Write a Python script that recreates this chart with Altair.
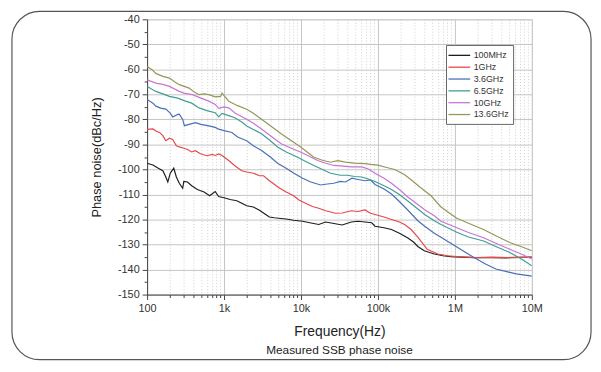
import altair as alt
import pandas as pd

series_names = ["100MHz", "1GHz", "3.6GHz", "6.5GHz", "10GHz", "13.6GHz"]
series_colors = ["#1e1e1e", "#e5484b", "#4870b6", "#3f9e92", "#c675d6", "#96965a"]

f_100mhz = [100, 119, 140, 160, 175, 186, 200, 222, 240, 262, 290, 300, 335, 380, 450, 550, 650, 767, 850,
            1000, 1200, 1465, 1700, 1970, 2400, 2890, 3400, 3880, 4500, 5500, 6420, 8000, 10500, 13000, 17000,
            20900, 25700, 34300, 45000, 55200, 67700, 83000, 91700, 120000, 150000, 190000, 242000, 290000,
            330000, 400000, 540000, 700000, 880000, 1200000, 1770000, 3000000, 4600000, 7000000, 10000000]
v_100mhz = [-97.5, -98.2, -99.5, -100.5, -103, -105, -101.5, -99.5, -103, -105.5, -107.5, -104.8, -105, -106.5,
            -108, -109, -110.5, -108.8, -110.8, -111.3, -112, -112.5, -113.5, -114.5, -115, -116.3, -117.8, -119,
            -119.3, -119.6, -119.8, -120.3, -120.7, -121.3, -122, -121, -121.5, -122.2, -121, -120.7, -121, -121.3,
            -122.7, -123.3, -124, -125.5, -127.3, -129, -130.8, -132.5, -133.8, -134.5, -134.8, -135, -135.2,
            -135.2, -135.3, -135.1, -135]

f_1ghz = [100, 119, 130, 145, 160, 175, 195, 215, 240, 262, 300, 335, 380, 425, 492, 600, 700, 767, 853, 941,
          1150, 1380, 1700, 1970, 2400, 2890, 3260, 3880, 4320, 5000, 6420, 8000, 9420, 12000, 14100, 17000, 20900,
          28100, 34300, 45000, 55200, 67700, 80000, 91700, 120000, 150000, 190000, 222000, 270000, 330000, 437000,
          600000, 800000, 1060000, 1930000, 3000000, 5000000, 10000000]
v_1ghz = [-84, -83.8, -84.6, -85.2, -86.5, -88.5, -87.5, -88, -90.5, -91, -91.5, -92, -93, -92.5, -93.7, -94.5,
          -94, -94.4, -93.8, -94.4, -96.4, -98.5, -100.5, -101, -101.5, -102.5, -102.5, -104.5, -105.5, -107, -109,
          -110.5, -112.2, -113.8, -114.8, -115.5, -116.5, -117.5, -117.4, -116.5, -116.8, -116.2, -117.5, -118,
          -119, -120, -121, -122, -124, -127, -131.9, -133.8, -134.5, -134.8, -135.2, -135, -135.2, -135]

f_3g6 = [100, 119, 130, 150, 175, 200, 215, 250, 262, 290, 305, 352, 425, 500, 635, 767, 853, 1000, 1265, 1500,
         1700, 1970, 2400, 3070, 4000, 5010, 6420, 8100, 10500, 13400, 18000, 22000, 26700, 32500, 37900, 46000,
         55200, 67700, 80000, 91700, 120000, 150000, 190000, 242000, 330000, 405000, 540000, 660000, 1060000,
         1770000, 2500000, 3410000, 5000000, 6300000, 10000000]
v_3g6 = [-72, -73.5, -74.7, -75.5, -75.9, -77.5, -79, -78, -77.9, -80, -82.5, -82, -81.3, -82, -82.6, -83.2,
         -83.9, -84.5, -85.2, -87, -87.7, -88.5, -90.5, -92.4, -95, -97.6, -99.5, -101.5, -103.5, -105, -106.2,
         -105.8, -105.5, -104.8, -105, -103.5, -104, -104.5, -104.2, -106, -107.8, -109.8, -112.8, -116.1, -120.5,
         -122.7, -125.5, -127.1, -131, -135.2, -137.8, -139.8, -141, -141.7, -142.6]

f_6g5 = [100, 130, 160, 195, 250, 316, 380, 473, 600, 767, 853, 941, 1150, 1380, 1700, 1970, 2400, 3070, 4000,
         5010, 6420, 9050, 11500, 14700, 19000, 24200, 32500, 40000, 50000, 61600, 75000, 91700, 120000, 150000,
         190000, 242000, 330000, 405000, 540000, 660000, 1060000, 1500000, 2360000, 3400000, 5170000, 7500000,
         10000000]
v_6g5 = [-66.8, -68.8, -69.8, -70.8, -71.5, -72.7, -73.5, -75.4, -76.5, -77.3, -79, -77.6, -78.5, -79.3, -81,
         -82.6, -84, -85.7, -88.5, -91.1, -93, -95.1, -96.8, -98.4, -100, -101.5, -102.3, -102.3, -102.8, -103,
         -103.8, -104.8, -106.5, -108, -110, -112.5, -115.8, -118, -120.5, -122, -125.1, -127, -128.6, -130.8,
         -133.2, -136, -138.5]

f_10g = [100, 130, 160, 195, 262, 300, 389, 500, 635, 767, 853, 1000, 1150, 1400, 1970, 2400, 3070, 4000, 5520,
         7500, 10000, 13000, 16400, 21000, 26700, 32500, 37900, 46000, 61600, 75000, 91700, 120000, 150000, 190000,
         242000, 330000, 405000, 540000, 660000, 1060000, 1500000, 2360000, 3400000, 5170000, 7500000, 10000000]
v_10g = [-64.2, -65.5, -66, -66.8, -68.8, -69.5, -70.1, -71.5, -72.7, -74, -75.6, -75, -75.4, -77.5, -79.9, -81.5,
         -83.8, -86.5, -89.7, -91.5, -93.1, -94.8, -96.4, -97.5, -98.4, -98.6, -98.8, -99, -99, -99.8, -101.5,
         -103.5, -105.5, -108, -110.9, -114, -116.1, -118.5, -120.7, -123.3, -125.2, -127.3, -129.5, -131.9, -134,
         -135.8]

f_13g6 = [100, 115, 130, 160, 195, 230, 262, 352, 410, 473, 550, 635, 767, 900, 941, 1000, 1150, 1500, 1970, 2400,
          3070, 4000, 5520, 7500, 10000, 12000, 14700, 19000, 24200, 30000, 37900, 50000, 67700, 80000, 100000,
          130000, 165000, 220000, 280000, 350000, 490000, 660000, 900000, 1060000, 1500000, 2360000, 3400000,
          5170000, 7500000, 10000000]
v_13g6 = [-58.9, -60, -61.6, -62.8, -63.5, -65, -66.1, -67.5, -69, -70.1, -69.8, -70.1, -71, -70.8, -69.5, -70.5,
          -72.7, -74.5, -75.9, -77.5, -79.9, -82.5, -85.7, -88.5, -91.1, -93, -95.1, -96.3, -97.1, -96.5, -97.1,
          -97.5, -97.7, -98, -98.3, -99.2, -100, -102, -104.5, -107, -110.5, -115, -118, -119.5, -121.5, -124,
          -126.5, -129.2, -131, -132.5]

x_major = [100, 1000, 10000, 100000, 1000000, 10000000]
x_ticks = [m * 10 ** k for k in range(2, 7) for m in range(1, 10)] + [10000000]
x_labels = ["100", "1k", "10k", "100k", "1M", "10M"]
y_ticks = list(range(-150, -39, 5))

all_f = [f_100mhz, f_1ghz, f_3g6, f_6g5, f_10g, f_13g6]
all_v = [v_100mhz, v_1ghz, v_3g6, v_6g5, v_10g, v_13g6]
rows = []
for name, fs, vs in zip(series_names, all_f, all_v):
    for i, (f, v) in enumerate(zip(fs, vs)):
        rows.append({"series": name, "freq": f, "noise": v, "idx": i})
df = pd.DataFrame(rows)

FONT = "Liberation Sans"
major_test = "indexof([" + ",".join(str(v) for v in x_major) + "], datum.value) >= 0"
label_expr = "".join(
    f"datum.value == {v} ? '{lab}' : " for v, lab in zip(x_major, x_labels)
) + "''"

x_axis = alt.Axis(
    values=x_ticks,
    labelExpr=label_expr,
    labelOverlap=False,
    labelFlush=False,
    title="Frequency(Hz)",
    titleFont=FONT, titleFontSize=14, titleFontWeight="normal", titleColor="#222",
    titlePadding=11,
    labelFont=FONT, labelFontSize=11, labelColor="#333", labelPadding=3,
    domainColor="#444",
    tickColor="#444",
    tickSize={"condition": {"test": major_test, "value": 5}, "value": 3},
    grid=True,
    gridColor={"condition": {"test": major_test, "value": "#c4c4c4"}, "value": "#cfcfcf"},
    gridDash={"condition": {"test": major_test, "value": []}, "value": [1, 2]},
    gridWidth=1,
)

y_axis = alt.Axis(
    values=y_ticks,
    labelExpr="datum.value % 10 == 0 ? datum.value : ''",
    labelOverlap=False,
    title="Phase noise(dBc/Hz)",
    titleFont=FONT, titleFontSize=13, titleFontWeight="normal", titleColor="#222",
    titlePadding=14,
    labelFont=FONT, labelFontSize=11, labelColor="#333", labelPadding=3,
    domainColor="#444",
    tickColor="#444",
    tickSize={"condition": {"test": "datum.value % 10 == 0", "value": 5}, "value": 3},
    grid=True,
    gridColor="#c4c4c4",
    gridOpacity={"condition": {"test": "datum.value % 10 == 0", "value": 1}, "value": 0},
)

lines = alt.Chart(df).mark_line(strokeWidth=1.2, clip=True).encode(
    x=alt.X("freq:Q", scale=alt.Scale(type="log", domain=[100, 10000000], nice=False), axis=x_axis),
    y=alt.Y("noise:Q", scale=alt.Scale(domain=[-150, -40], nice=False), axis=y_axis),
    color=alt.Color(
        "series:N",
        scale=alt.Scale(domain=series_names, range=series_colors),
        legend=alt.Legend(
            orient="none", legendX=303, legendY=26, title=None,
            symbolType="M-2,0L2,0", symbolSize=121, symbolStrokeWidth=1.3,
            symbolOffset=3,
            labelFont=FONT, labelFontSize=9, labelColor="#333",
            rowPadding=-0.4, padding=4, strokeColor="#666", fillColor="white",
            labelOffset=8,
        ),
    ),
    detail="series:N",
    order="idx:Q",
)

frame_df = pd.DataFrame({"k": [0]})
frame = alt.Chart(frame_df).mark_rect(
    fillOpacity=0, stroke="#555", strokeWidth=1.2, cornerRadius=28
).encode(
    x=alt.value(-137), x2=alt.value(450), y=alt.value(-8), y2=alt.value(345)
)

caption = alt.Chart(frame_df).mark_text(
    text="Measured SSB phase noise", font=FONT, fontSize=12, color="#222"
).encode(x=alt.value(195), y=alt.value(56 + 279))

chart = alt.layer(frame, lines, caption).properties(
    width=390,
    height=279,
    autosize=alt.AutoSizeParams(type="none"),
    padding={"left": 141, "top": 9, "right": 62, "bottom": 76},
).configure_view(stroke="#444", strokeWidth=1).configure(background="white")

chart.save("out.html", embed_options={"renderer": "svg", "actions": False})
